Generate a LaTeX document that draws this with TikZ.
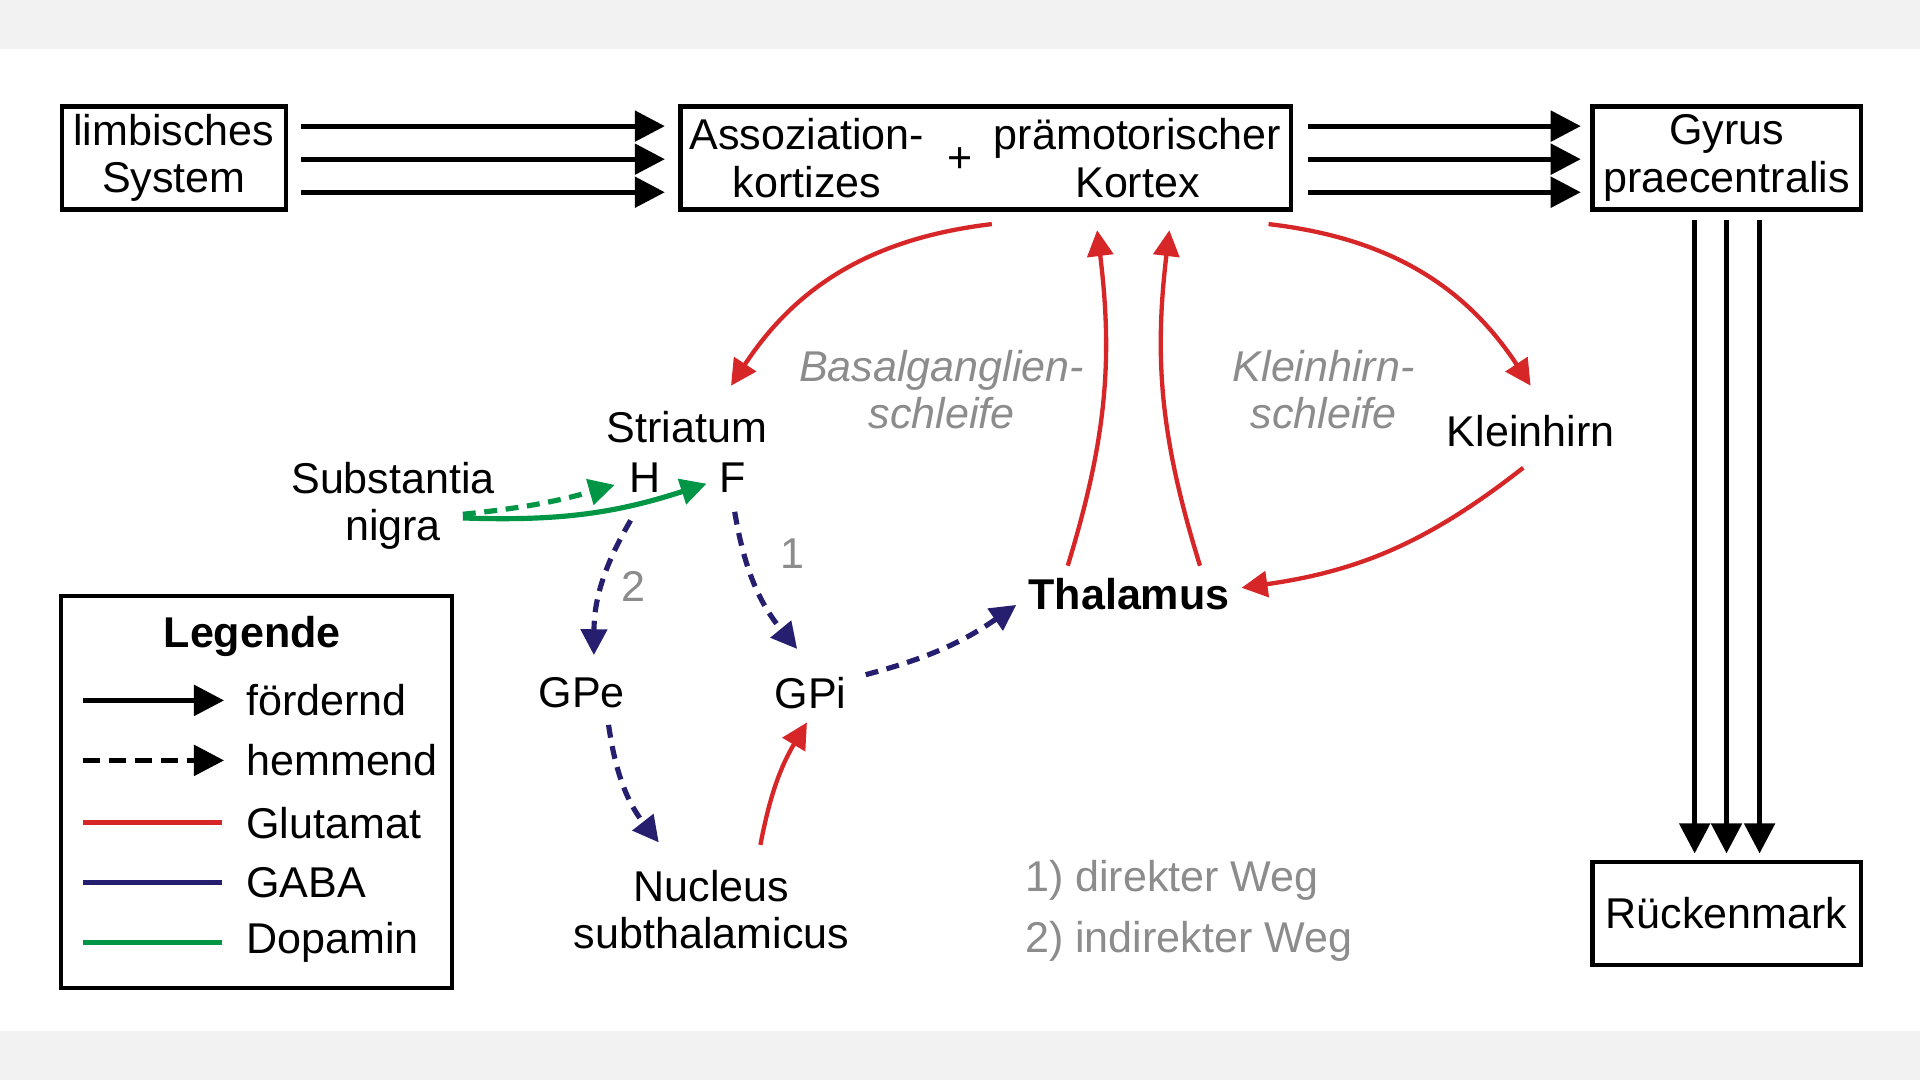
\documentclass[tikz,border=0pt]{standalone}
\usepackage{fontspec}
\setmainfont{Liberation Sans}
\usetikzlibrary{positioning,arrows.meta}
\definecolor{glut}{RGB}{214,38,40}
\definecolor{gaba}{RGB}{38,30,110}
\definecolor{dopa}{RGB}{0,150,70}
\definecolor{note}{RGB}{140,140,140}
\tikzset{box/.style={draw,line width=1pt,inner sep=0pt},
  txt/.style={font=\fontsize{10}{11}\selectfont,align=center,inner sep=1pt},
  tip/.style={-{Triangle[length=7pt,width=7pt]}},
  fwd/.style={tip,line width=1.2pt},
  glu/.style={-{Triangle[length=6pt,width=6pt]},line width=1pt,glut},
  gab/.style={-{Triangle[length=6pt,width=6pt]},line width=1.2pt,gaba,dash pattern=on 3pt off 2pt},
  dop/.style={-{Triangle[length=6pt,width=6pt]},line width=1.2pt,dopa}}

\begin{document}
\begin{tikzpicture}[x=0.01cm,y=-0.01cm]
    \fill[black!5] (0,0) rectangle (1568,882);
    \fill[white] (0,40) rectangle (1568,842);

    % boxes
    \node[box,minimum width=1.83cm,minimum height=0.84cm] (limb) at (142,129) {};
    \node[txt] at (limb) {limbisches\\System};
    \node[box,minimum width=4.98cm,minimum height=0.84cm] (asso) at (805,129) {};
    \node[txt] (ak) at (659,129) {Assoziation-\\kortizes};
    \node[txt] (plus) at (784,131) {+};
    \node[txt] (pk) at (929,129) {prämotorischer\\Kortex};
    \node[box,minimum width=2.19cm,minimum height=0.84cm] (gyr) at (1410,129) {};
    \node[txt] at (gyr) {Gyrus\\praecentralis};
    \node[box,minimum width=2.19cm,minimum height=0.84cm] (rm) at (1410,746) {};
    \node[txt] at (rm) {Rückenmark};

    % black pathways
    \foreach \y in {103,130,157} {
        \coordinate (la\y) at (246,\y); \coordinate (lb\y) at (543,\y);
        \coordinate (ga\y) at (1068,\y); \coordinate (gb\y) at (1291,\y);
        \draw[fwd] (la\y) -- (lb\y);
        \draw[fwd] (ga\y) -- (gb\y);
    }
    \foreach \x in {1384,1410,1437} {
        \coordinate (ra\x) at (\x,180); \coordinate (rb\x) at (\x,697);
        \draw[fwd] (ra\x) -- (rb\x);
    }

    % nuclei
    \node[txt] (str) at (561,349) {Striatum};
    \node[txt] (H) at (527,390) {H};
    \node[txt] (F) at (598,390) {F};
    \node[txt] (sn) at (321,413) {Substantia\\nigra};
    \node[txt,note,font=\fontsize{10}{11}\selectfont\itshape] (bgs) at (769,318) {Basalganglien-\\schleife};
    \node[txt,note,font=\fontsize{10}{11}\selectfont\itshape] (khs) at (1081,318) {Kleinhirn-\\schleife};
    \node[txt] (kh) at (1250,352) {Kleinhirn};
    \node[txt,font=\fontsize{10}{11}\selectfont\bfseries] (thal) at (922,485) {Thalamus};
    \node[txt] (gpe) at (475,566) {GPe};
    \node[txt] (gpi) at (662,566) {GPi};
    \node[txt] (nst) at (581,743) {Nucleus\\subthalamicus};
    \node[txt,note] (n1) at (647,452) {1};
    \node[txt,note] (n2) at (517,479) {2};
    \node[txt,note,anchor=west] (w1) at (833,719) {1) direkter Weg};
    \node[txt,note,anchor=west] (w2) at (833,769) {2) indirekter Weg};

    % glutamate
    \draw[glu] (810,183) to[bend right=25] (597,315);
    \draw[glu] (872,462) to[bend right=12] (896,188);
    \draw[glu] (980,462) to[bend left=12] (955,188);
    \draw[glu] (1036,183) to[bend left=25] (1250,315);
    \draw[glu] (1244,382) to[bend left=15] (1014,480);
    \draw[glu] (621,690) to[bend left=10] (659,590);

    % dopamine
    \draw[dop] (378,423) to[bend right=10] (577,395);
    \draw[dop,dash pattern=on 3pt off 2pt] (378,420) to[bend right=5] (502,396);

    % GABA
    \draw[gab] (515,425) to[bend right=15] (485,535);
    \draw[gab] (600,418) to[bend right=15] (651,530);
    \draw[gab] (707,551) to[bend right=10] (830,494);
    \draw[gab] (497,592) to[bend right=15] (538,688);

    % legend
    \node[box,minimum width=3.19cm,minimum height=3.2cm] (leg) at (209.5,647) {};
    \node[txt,font=\fontsize{10}{11}\selectfont\bfseries] (legt) at (206,520) {Legende};
    \coordinate (l1a) at (68,572); \coordinate (l1b) at (183,572);
    \coordinate (l2a) at (68,621); \coordinate (l2b) at (183,621);
    \coordinate (l3a) at (68,672); \coordinate (l3b) at (181,672);
    \coordinate (l4a) at (68,721); \coordinate (l4b) at (181,721);
    \coordinate (l5a) at (68,770); \coordinate (l5b) at (181,770);
    \draw[fwd] (l1a) -- (l1b);
    \draw[fwd,dash pattern=on 4pt off 2pt] (l2a) -- (l2b);
    \draw[line width=1.1pt,glut] (l3a) -- (l3b);
    \draw[line width=1.1pt,gaba] (l4a) -- (l4b);
    \draw[line width=1.1pt,dopa] (l5a) -- (l5b);
    \foreach \y/\t in {572/fördernd,621/hemmend,672/Glutamat,721/GABA,770/Dopamin}
        \node[txt,anchor=west] at (197,\y) {\t};
\end{tikzpicture}
\end{document}
